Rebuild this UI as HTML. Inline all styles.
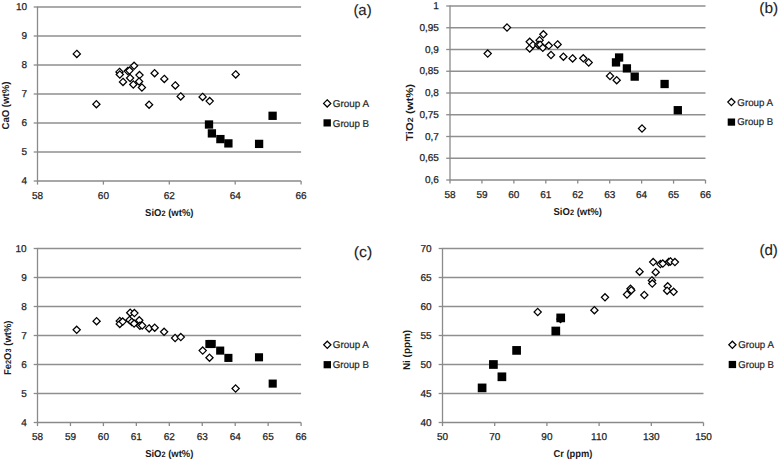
<!DOCTYPE html>
<html><head><meta charset="utf-8"><title>Geochemistry plots</title>
<style>
html,body{margin:0;padding:0;background:#fff;}
body{width:778px;height:461px;overflow:hidden;}
svg{display:block;text-rendering:geometricPrecision;font-family:"Liberation Sans", sans-serif;}
</style></head>
<body>
<svg width="778" height="461" viewBox="0 0 778 461">
<rect width="778" height="461" fill="#fff"/>
<g stroke="#8f8f8f" stroke-width="1.3" fill="none">
<line x1="37.50" y1="7.00" x2="301.10" y2="7.00"/>
<line x1="37.50" y1="36.00" x2="301.10" y2="36.00"/>
<line x1="37.50" y1="65.00" x2="301.10" y2="65.00"/>
<line x1="37.50" y1="94.00" x2="301.10" y2="94.00"/>
<line x1="37.50" y1="123.00" x2="301.10" y2="123.00"/>
<line x1="37.50" y1="152.00" x2="301.10" y2="152.00"/>
</g>
<g stroke="#8a8a8a" stroke-width="1.3" fill="none">
<line x1="37.50" y1="6.40" x2="37.50" y2="181.60"/>
<line x1="37.50" y1="181.00" x2="301.10" y2="181.00"/>
<line x1="33.70" y1="7.00" x2="37.50" y2="7.00"/>
<line x1="33.70" y1="36.00" x2="37.50" y2="36.00"/>
<line x1="33.70" y1="65.00" x2="37.50" y2="65.00"/>
<line x1="33.70" y1="94.00" x2="37.50" y2="94.00"/>
<line x1="33.70" y1="123.00" x2="37.50" y2="123.00"/>
<line x1="33.70" y1="152.00" x2="37.50" y2="152.00"/>
<line x1="33.70" y1="181.00" x2="37.50" y2="181.00"/>
<line x1="37.50" y1="181.00" x2="37.50" y2="184.60"/>
<line x1="103.40" y1="181.00" x2="103.40" y2="184.60"/>
<line x1="169.30" y1="181.00" x2="169.30" y2="184.60"/>
<line x1="235.20" y1="181.00" x2="235.20" y2="184.60"/>
<line x1="301.10" y1="181.00" x2="301.10" y2="184.60"/>
</g>
<g font-size="10" fill="#1e1e1e" stroke="#1e1e1e" stroke-width="0.25">
<text x="27.10" y="10.15" text-anchor="end">10</text>
<text x="27.10" y="39.15" text-anchor="end">9</text>
<text x="27.10" y="68.15" text-anchor="end">8</text>
<text x="27.10" y="97.15" text-anchor="end">7</text>
<text x="27.10" y="126.15" text-anchor="end">6</text>
<text x="27.10" y="155.15" text-anchor="end">5</text>
<text x="27.10" y="184.15" text-anchor="end">4</text>
<text x="37.50" y="198.50" text-anchor="middle">58</text>
<text x="103.40" y="198.50" text-anchor="middle">60</text>
<text x="169.30" y="198.50" text-anchor="middle">62</text>
<text x="235.20" y="198.50" text-anchor="middle">64</text>
<text x="301.10" y="198.50" text-anchor="middle">66</text>
</g>
<text x="169.30" y="215.80" text-anchor="middle" font-weight="bold" font-size="10" fill="#1a1a1a" textLength="48.4" lengthAdjust="spacingAndGlyphs"><tspan>SiO</tspan><tspan font-size="7.8">2</tspan><tspan> (wt%)</tspan></text>
<text transform="translate(9.30,105.60) rotate(-90)" x="0" y="0" text-anchor="middle" font-weight="bold" font-size="10" fill="#1a1a1a" textLength="47.8" lengthAdjust="spacingAndGlyphs"><tspan>CaO (wt%)</tspan></text>
<text x="353.40" y="14.50" font-size="15" fill="#1e1e1e" stroke="#1e1e1e" stroke-width="0.1" textLength="18.3" lengthAdjust="spacingAndGlyphs">(a)</text>
<g fill="#fff" stroke="#000" stroke-width="1.25"><path d="M327.20 99.80L330.80 103.40L327.20 107.00L323.60 103.40Z"/></g>
<rect x="323.50" y="119.30" width="7.4" height="7.2" fill="#000"/>
<text x="332.80" y="106.70" font-size="10" fill="#1e1e1e" stroke="#1e1e1e" stroke-width="0.2" textLength="36.3" lengthAdjust="spacingAndGlyphs">Group A</text>
<text x="332.80" y="126.50" font-size="10" fill="#1e1e1e" stroke="#1e1e1e" stroke-width="0.2" textLength="36.3" lengthAdjust="spacingAndGlyphs">Group B</text>
<g fill="#fff" stroke="#000" stroke-width="1.25">
<path d="M76.80 50.30L80.40 53.90L76.80 57.50L73.20 53.90Z"/>
<path d="M96.40 100.60L100.00 104.20L96.40 107.80L92.80 104.20Z"/>
<path d="M119.50 68.30L123.10 71.90L119.50 75.50L115.90 71.90Z"/>
<path d="M119.80 70.90L123.40 74.50L119.80 78.10L116.20 74.50Z"/>
<path d="M123.00 78.30L126.60 81.90L123.00 85.50L119.40 81.90Z"/>
<path d="M127.80 67.50L131.40 71.10L127.80 74.70L124.20 71.10Z"/>
<path d="M129.50 67.00L133.10 70.60L129.50 74.20L125.90 70.60Z"/>
<path d="M134.10 62.20L137.70 65.80L134.10 69.40L130.50 65.80Z"/>
<path d="M130.10 74.40L133.70 78.00L130.10 81.60L126.50 78.00Z"/>
<path d="M139.50 71.50L143.10 75.10L139.50 78.70L135.90 75.10Z"/>
<path d="M133.30 80.90L136.90 84.50L133.30 88.10L129.70 84.50Z"/>
<path d="M139.10 77.90L142.70 81.50L139.10 85.10L135.50 81.50Z"/>
<path d="M141.90 83.90L145.50 87.50L141.90 91.10L138.30 87.50Z"/>
<path d="M154.60 69.60L158.20 73.20L154.60 76.80L151.00 73.20Z"/>
<path d="M164.30 75.30L167.90 78.90L164.30 82.50L160.70 78.90Z"/>
<path d="M175.30 81.80L178.90 85.40L175.30 89.00L171.70 85.40Z"/>
<path d="M180.70 92.80L184.30 96.40L180.70 100.00L177.10 96.40Z"/>
<path d="M202.60 93.30L206.20 96.90L202.60 100.50L199.00 96.90Z"/>
<path d="M209.70 97.50L213.30 101.10L209.70 104.70L206.10 101.10Z"/>
<path d="M235.70 70.80L239.30 74.40L235.70 78.00L232.10 74.40Z"/>
<path d="M149.10 101.10L152.70 104.70L149.10 108.30L145.50 104.70Z"/>
</g>
<g fill="#000">
<rect x="204.85" y="120.35" width="8.30" height="8.30"/>
<rect x="207.75" y="129.25" width="8.30" height="8.30"/>
<rect x="216.25" y="134.95" width="8.30" height="8.30"/>
<rect x="224.25" y="139.25" width="8.30" height="8.30"/>
<rect x="254.95" y="139.75" width="8.30" height="8.30"/>
<rect x="268.45" y="111.65" width="8.30" height="8.30"/>
</g>
<g stroke="#8f8f8f" stroke-width="1.3" fill="none">
<line x1="450.00" y1="6.00" x2="705.50" y2="6.00"/>
<line x1="450.00" y1="27.75" x2="705.50" y2="27.75"/>
<line x1="450.00" y1="49.50" x2="705.50" y2="49.50"/>
<line x1="450.00" y1="71.25" x2="705.50" y2="71.25"/>
<line x1="450.00" y1="93.00" x2="705.50" y2="93.00"/>
<line x1="450.00" y1="114.75" x2="705.50" y2="114.75"/>
<line x1="450.00" y1="136.50" x2="705.50" y2="136.50"/>
<line x1="450.00" y1="158.25" x2="705.50" y2="158.25"/>
</g>
<g stroke="#8a8a8a" stroke-width="1.3" fill="none">
<line x1="450.00" y1="5.40" x2="450.00" y2="180.60"/>
<line x1="450.00" y1="180.00" x2="705.50" y2="180.00"/>
<line x1="446.20" y1="6.00" x2="450.00" y2="6.00"/>
<line x1="446.20" y1="27.75" x2="450.00" y2="27.75"/>
<line x1="446.20" y1="49.50" x2="450.00" y2="49.50"/>
<line x1="446.20" y1="71.25" x2="450.00" y2="71.25"/>
<line x1="446.20" y1="93.00" x2="450.00" y2="93.00"/>
<line x1="446.20" y1="114.75" x2="450.00" y2="114.75"/>
<line x1="446.20" y1="136.50" x2="450.00" y2="136.50"/>
<line x1="446.20" y1="158.25" x2="450.00" y2="158.25"/>
<line x1="446.20" y1="180.00" x2="450.00" y2="180.00"/>
<line x1="450.00" y1="180.00" x2="450.00" y2="183.60"/>
<line x1="481.94" y1="180.00" x2="481.94" y2="183.60"/>
<line x1="513.88" y1="180.00" x2="513.88" y2="183.60"/>
<line x1="545.81" y1="180.00" x2="545.81" y2="183.60"/>
<line x1="577.75" y1="180.00" x2="577.75" y2="183.60"/>
<line x1="609.69" y1="180.00" x2="609.69" y2="183.60"/>
<line x1="641.62" y1="180.00" x2="641.62" y2="183.60"/>
<line x1="673.56" y1="180.00" x2="673.56" y2="183.60"/>
<line x1="705.50" y1="180.00" x2="705.50" y2="183.60"/>
</g>
<g font-size="10" fill="#1e1e1e" stroke="#1e1e1e" stroke-width="0.25">
<text x="438.90" y="9.15" text-anchor="end">1</text>
<text x="438.90" y="30.90" text-anchor="end">0,95</text>
<text x="438.90" y="52.65" text-anchor="end">0,9</text>
<text x="438.90" y="74.40" text-anchor="end">0,85</text>
<text x="438.90" y="96.15" text-anchor="end">0,8</text>
<text x="438.90" y="117.90" text-anchor="end">0,75</text>
<text x="438.90" y="139.65" text-anchor="end">0,7</text>
<text x="438.90" y="161.40" text-anchor="end">0,65</text>
<text x="438.90" y="183.15" text-anchor="end">0,6</text>
<text x="450.00" y="197.50" text-anchor="middle">58</text>
<text x="481.94" y="197.50" text-anchor="middle">59</text>
<text x="513.88" y="197.50" text-anchor="middle">60</text>
<text x="545.81" y="197.50" text-anchor="middle">61</text>
<text x="577.75" y="197.50" text-anchor="middle">62</text>
<text x="609.69" y="197.50" text-anchor="middle">63</text>
<text x="641.62" y="197.50" text-anchor="middle">64</text>
<text x="673.56" y="197.50" text-anchor="middle">65</text>
<text x="705.50" y="197.50" text-anchor="middle">66</text>
</g>
<text x="577.75" y="214.80" text-anchor="middle" font-weight="bold" font-size="10" fill="#1a1a1a" textLength="48.4" lengthAdjust="spacingAndGlyphs"><tspan>SiO</tspan><tspan font-size="7.8">2</tspan><tspan> (wt%)</tspan></text>
<text transform="translate(412.90,112.40) rotate(-90)" x="0" y="0" text-anchor="middle" font-weight="bold" font-size="10" fill="#1a1a1a" textLength="57.0" lengthAdjust="spacingAndGlyphs"><tspan>TiO</tspan><tspan font-size="7.8">2</tspan><tspan> (wt%)</tspan></text>
<text x="759.30" y="12.90" font-size="15" fill="#1e1e1e" stroke="#1e1e1e" stroke-width="0.1" textLength="18.9" lengthAdjust="spacingAndGlyphs">(b)</text>
<g fill="#fff" stroke="#000" stroke-width="1.25"><path d="M731.40 98.50L735.00 102.10L731.40 105.70L727.80 102.10Z"/></g>
<rect x="727.70" y="118.50" width="7.4" height="7.2" fill="#000"/>
<text x="737.30" y="105.60" font-size="10" fill="#1e1e1e" stroke="#1e1e1e" stroke-width="0.2" textLength="35.8" lengthAdjust="spacingAndGlyphs">Group A</text>
<text x="737.30" y="125.10" font-size="10" fill="#1e1e1e" stroke="#1e1e1e" stroke-width="0.2" textLength="35.8" lengthAdjust="spacingAndGlyphs">Group B</text>
<g fill="#fff" stroke="#000" stroke-width="1.25">
<path d="M487.70 50.00L491.30 53.60L487.70 57.20L484.10 53.60Z"/>
<path d="M507.00 23.90L510.60 27.50L507.00 31.10L503.40 27.50Z"/>
<path d="M529.70 38.20L533.30 41.80L529.70 45.40L526.10 41.80Z"/>
<path d="M529.70 44.80L533.30 48.40L529.70 52.00L526.10 48.40Z"/>
<path d="M532.90 41.30L536.50 44.90L532.90 48.50L529.30 44.90Z"/>
<path d="M543.40 30.70L547.00 34.30L543.40 37.90L539.80 34.30Z"/>
<path d="M539.60 36.60L543.20 40.20L539.60 43.80L536.00 40.20Z"/>
<path d="M538.20 41.30L541.80 44.90L538.20 48.50L534.60 44.90Z"/>
<path d="M540.10 41.10L543.70 44.70L540.10 48.30L536.50 44.70Z"/>
<path d="M542.80 44.20L546.40 47.80L542.80 51.40L539.20 47.80Z"/>
<path d="M548.80 42.00L552.40 45.60L548.80 49.20L545.20 45.60Z"/>
<path d="M551.00 51.40L554.60 55.00L551.00 58.60L547.40 55.00Z"/>
<path d="M557.60 40.80L561.20 44.40L557.60 48.00L554.00 44.40Z"/>
<path d="M563.40 53.10L567.00 56.70L563.40 60.30L559.80 56.70Z"/>
<path d="M572.60 54.80L576.20 58.40L572.60 62.00L569.00 58.40Z"/>
<path d="M583.30 54.70L586.90 58.30L583.30 61.90L579.70 58.30Z"/>
<path d="M588.70 58.90L592.30 62.50L588.70 66.10L585.10 62.50Z"/>
<path d="M610.00 72.40L613.60 76.00L610.00 79.60L606.40 76.00Z"/>
<path d="M616.70 76.60L620.30 80.20L616.70 83.80L613.10 80.20Z"/>
<path d="M642.00 124.90L645.60 128.50L642.00 132.10L638.40 128.50Z"/>
</g>
<g fill="#000">
<rect x="611.85" y="58.25" width="8.30" height="8.30"/>
<rect x="614.95" y="53.35" width="8.30" height="8.30"/>
<rect x="622.75" y="64.25" width="8.30" height="8.30"/>
<rect x="630.55" y="72.45" width="8.30" height="8.30"/>
<rect x="660.45" y="79.85" width="8.30" height="8.30"/>
<rect x="673.65" y="106.05" width="8.30" height="8.30"/>
</g>
<g stroke="#8f8f8f" stroke-width="1.3" fill="none">
<line x1="37.50" y1="248.50" x2="301.10" y2="248.50"/>
<line x1="37.50" y1="277.50" x2="301.10" y2="277.50"/>
<line x1="37.50" y1="306.50" x2="301.10" y2="306.50"/>
<line x1="37.50" y1="335.50" x2="301.10" y2="335.50"/>
<line x1="37.50" y1="364.50" x2="301.10" y2="364.50"/>
<line x1="37.50" y1="393.50" x2="301.10" y2="393.50"/>
</g>
<g stroke="#8a8a8a" stroke-width="1.3" fill="none">
<line x1="37.50" y1="247.90" x2="37.50" y2="423.10"/>
<line x1="37.50" y1="422.50" x2="301.10" y2="422.50"/>
<line x1="33.70" y1="248.50" x2="37.50" y2="248.50"/>
<line x1="33.70" y1="277.50" x2="37.50" y2="277.50"/>
<line x1="33.70" y1="306.50" x2="37.50" y2="306.50"/>
<line x1="33.70" y1="335.50" x2="37.50" y2="335.50"/>
<line x1="33.70" y1="364.50" x2="37.50" y2="364.50"/>
<line x1="33.70" y1="393.50" x2="37.50" y2="393.50"/>
<line x1="33.70" y1="422.50" x2="37.50" y2="422.50"/>
<line x1="37.50" y1="422.50" x2="37.50" y2="426.10"/>
<line x1="70.45" y1="422.50" x2="70.45" y2="426.10"/>
<line x1="103.40" y1="422.50" x2="103.40" y2="426.10"/>
<line x1="136.35" y1="422.50" x2="136.35" y2="426.10"/>
<line x1="169.30" y1="422.50" x2="169.30" y2="426.10"/>
<line x1="202.25" y1="422.50" x2="202.25" y2="426.10"/>
<line x1="235.20" y1="422.50" x2="235.20" y2="426.10"/>
<line x1="268.15" y1="422.50" x2="268.15" y2="426.10"/>
<line x1="301.10" y1="422.50" x2="301.10" y2="426.10"/>
</g>
<g font-size="10" fill="#1e1e1e" stroke="#1e1e1e" stroke-width="0.25">
<text x="26.70" y="251.65" text-anchor="end">10</text>
<text x="26.70" y="280.65" text-anchor="end">9</text>
<text x="26.70" y="309.65" text-anchor="end">8</text>
<text x="26.70" y="338.65" text-anchor="end">7</text>
<text x="26.70" y="367.65" text-anchor="end">6</text>
<text x="26.70" y="396.65" text-anchor="end">5</text>
<text x="26.70" y="425.65" text-anchor="end">4</text>
<text x="37.50" y="440.00" text-anchor="middle">58</text>
<text x="70.45" y="440.00" text-anchor="middle">59</text>
<text x="103.40" y="440.00" text-anchor="middle">60</text>
<text x="136.35" y="440.00" text-anchor="middle">61</text>
<text x="169.30" y="440.00" text-anchor="middle">62</text>
<text x="202.25" y="440.00" text-anchor="middle">63</text>
<text x="235.20" y="440.00" text-anchor="middle">64</text>
<text x="268.15" y="440.00" text-anchor="middle">65</text>
<text x="301.10" y="440.00" text-anchor="middle">66</text>
</g>
<text x="169.30" y="457.30" text-anchor="middle" font-weight="bold" font-size="10" fill="#1a1a1a" textLength="48.3" lengthAdjust="spacingAndGlyphs"><tspan>SiO</tspan><tspan font-size="7.8">2</tspan><tspan> (wt%)</tspan></text>
<text transform="translate(10.60,347.80) rotate(-90)" x="0" y="0" text-anchor="middle" font-weight="bold" font-size="10" fill="#1a1a1a" textLength="54.6" lengthAdjust="spacingAndGlyphs"><tspan>Fe</tspan><tspan font-size="7.8">2</tspan><tspan>O</tspan><tspan font-size="7.8">3</tspan><tspan> (wt%)</tspan></text>
<text x="353.80" y="256.70" font-size="15" fill="#1e1e1e" stroke="#1e1e1e" stroke-width="0.1" textLength="18.5" lengthAdjust="spacingAndGlyphs">(c)</text>
<g fill="#fff" stroke="#000" stroke-width="1.25"><path d="M327.30 341.20L330.90 344.80L327.30 348.40L323.70 344.80Z"/></g>
<rect x="323.60" y="361.10" width="7.4" height="7.2" fill="#000"/>
<text x="332.80" y="348.20" font-size="10" fill="#1e1e1e" stroke="#1e1e1e" stroke-width="0.2" textLength="36.1" lengthAdjust="spacingAndGlyphs">Group A</text>
<text x="332.80" y="368.00" font-size="10" fill="#1e1e1e" stroke="#1e1e1e" stroke-width="0.2" textLength="36.1" lengthAdjust="spacingAndGlyphs">Group B</text>
<g fill="#fff" stroke="#000" stroke-width="1.25">
<path d="M76.70 326.20L80.30 329.80L76.70 333.40L73.10 329.80Z"/>
<path d="M96.60 317.60L100.20 321.20L96.60 324.80L93.00 321.20Z"/>
<path d="M119.80 317.40L123.40 321.00L119.80 324.60L116.20 321.00Z"/>
<path d="M119.80 320.30L123.40 323.90L119.80 327.50L116.20 323.90Z"/>
<path d="M122.70 318.00L126.30 321.60L122.70 325.20L119.10 321.60Z"/>
<path d="M130.20 309.10L133.80 312.70L130.20 316.30L126.60 312.70Z"/>
<path d="M134.40 309.50L138.00 313.10L134.40 316.70L130.80 313.10Z"/>
<path d="M129.50 316.40L133.10 320.00L129.50 323.60L125.90 320.00Z"/>
<path d="M131.80 318.30L135.40 321.90L131.80 325.50L128.20 321.90Z"/>
<path d="M134.10 320.00L137.70 323.60L134.10 327.20L130.50 323.60Z"/>
<path d="M139.30 316.70L142.90 320.30L139.30 323.90L135.70 320.30Z"/>
<path d="M139.90 322.20L143.50 325.80L139.90 329.40L136.30 325.80Z"/>
<path d="M142.20 321.90L145.80 325.50L142.20 329.10L138.60 325.50Z"/>
<path d="M149.10 324.80L152.70 328.40L149.10 332.00L145.50 328.40Z"/>
<path d="M154.70 324.10L158.30 327.70L154.70 331.30L151.10 327.70Z"/>
<path d="M164.10 328.20L167.70 331.80L164.10 335.40L160.50 331.80Z"/>
<path d="M175.10 334.40L178.70 338.00L175.10 341.60L171.50 338.00Z"/>
<path d="M180.80 333.50L184.40 337.10L180.80 340.70L177.20 337.10Z"/>
<path d="M202.70 347.00L206.30 350.60L202.70 354.20L199.10 350.60Z"/>
<path d="M209.50 354.10L213.10 357.70L209.50 361.30L205.90 357.70Z"/>
<path d="M235.60 384.90L239.20 388.50L235.60 392.10L232.00 388.50Z"/>
</g>
<g fill="#000">
<rect x="205.35" y="339.95" width="8.10" height="8.10"/>
<rect x="207.65" y="339.95" width="8.10" height="8.10"/>
<rect x="216.15" y="346.55" width="8.10" height="8.10"/>
<rect x="224.35" y="353.85" width="8.10" height="8.10"/>
<rect x="254.95" y="353.25" width="8.10" height="8.10"/>
<rect x="268.65" y="379.55" width="8.10" height="8.10"/>
</g>
<g stroke="#8f8f8f" stroke-width="1.3" fill="none">
<line x1="442.50" y1="248.50" x2="703.50" y2="248.50"/>
<line x1="442.50" y1="277.50" x2="703.50" y2="277.50"/>
<line x1="442.50" y1="306.50" x2="703.50" y2="306.50"/>
<line x1="442.50" y1="335.50" x2="703.50" y2="335.50"/>
<line x1="442.50" y1="364.50" x2="703.50" y2="364.50"/>
<line x1="442.50" y1="393.50" x2="703.50" y2="393.50"/>
</g>
<g stroke="#8a8a8a" stroke-width="1.3" fill="none">
<line x1="442.50" y1="247.90" x2="442.50" y2="423.10"/>
<line x1="442.50" y1="422.50" x2="703.50" y2="422.50"/>
<line x1="438.70" y1="248.50" x2="442.50" y2="248.50"/>
<line x1="438.70" y1="277.50" x2="442.50" y2="277.50"/>
<line x1="438.70" y1="306.50" x2="442.50" y2="306.50"/>
<line x1="438.70" y1="335.50" x2="442.50" y2="335.50"/>
<line x1="438.70" y1="364.50" x2="442.50" y2="364.50"/>
<line x1="438.70" y1="393.50" x2="442.50" y2="393.50"/>
<line x1="438.70" y1="422.50" x2="442.50" y2="422.50"/>
<line x1="442.50" y1="422.50" x2="442.50" y2="426.10"/>
<line x1="494.70" y1="422.50" x2="494.70" y2="426.10"/>
<line x1="546.90" y1="422.50" x2="546.90" y2="426.10"/>
<line x1="599.10" y1="422.50" x2="599.10" y2="426.10"/>
<line x1="651.30" y1="422.50" x2="651.30" y2="426.10"/>
<line x1="703.50" y1="422.50" x2="703.50" y2="426.10"/>
</g>
<g font-size="10" fill="#1e1e1e" stroke="#1e1e1e" stroke-width="0.25">
<text x="431.50" y="251.65" text-anchor="end">70</text>
<text x="431.50" y="280.65" text-anchor="end">65</text>
<text x="431.50" y="309.65" text-anchor="end">60</text>
<text x="431.50" y="338.65" text-anchor="end">55</text>
<text x="431.50" y="367.65" text-anchor="end">50</text>
<text x="431.50" y="396.65" text-anchor="end">45</text>
<text x="431.50" y="425.65" text-anchor="end">40</text>
<text x="442.50" y="440.00" text-anchor="middle">50</text>
<text x="494.70" y="440.00" text-anchor="middle">70</text>
<text x="546.90" y="440.00" text-anchor="middle">90</text>
<text x="599.10" y="440.00" text-anchor="middle">110</text>
<text x="651.30" y="440.00" text-anchor="middle">130</text>
<text x="703.50" y="440.00" text-anchor="middle">150</text>
</g>
<text x="573.00" y="457.30" text-anchor="middle" font-weight="bold" font-size="10" fill="#1a1a1a" textLength="39.0" lengthAdjust="spacingAndGlyphs"><tspan>Cr (ppm)</tspan></text>
<text transform="translate(409.60,350.00) rotate(-90)" x="0" y="0" text-anchor="middle" font-weight="bold" font-size="10" fill="#1a1a1a" textLength="40.0" lengthAdjust="spacingAndGlyphs"><tspan>Ni (ppm)</tspan></text>
<text x="759.40" y="255.20" font-size="15" fill="#1e1e1e" stroke="#1e1e1e" stroke-width="0.1" textLength="18.5" lengthAdjust="spacingAndGlyphs">(d)</text>
<g fill="#fff" stroke="#000" stroke-width="1.25"><path d="M732.40 341.20L736.00 344.80L732.40 348.40L728.80 344.80Z"/></g>
<rect x="728.70" y="360.90" width="7.4" height="7.2" fill="#000"/>
<text x="738.30" y="348.00" font-size="10" fill="#1e1e1e" stroke="#1e1e1e" stroke-width="0.2" textLength="35.6" lengthAdjust="spacingAndGlyphs">Group A</text>
<text x="738.30" y="367.90" font-size="10" fill="#1e1e1e" stroke="#1e1e1e" stroke-width="0.2" textLength="35.6" lengthAdjust="spacingAndGlyphs">Group B</text>
<g fill="#fff" stroke="#000" stroke-width="1.25">
<path d="M537.70 308.40L541.30 312.00L537.70 315.60L534.10 312.00Z"/>
<path d="M560.50 315.40L564.10 319.00L560.50 322.60L556.90 319.00Z"/>
<path d="M594.40 306.60L598.00 310.20L594.40 313.80L590.80 310.20Z"/>
<path d="M605.00 293.70L608.60 297.30L605.00 300.90L601.40 297.30Z"/>
<path d="M627.00 290.90L630.60 294.50L627.00 298.10L623.40 294.50Z"/>
<path d="M630.50 285.10L634.10 288.70L630.50 292.30L626.90 288.70Z"/>
<path d="M631.30 286.60L634.90 290.20L631.30 293.80L627.70 290.20Z"/>
<path d="M644.30 291.40L647.90 295.00L644.30 298.60L640.70 295.00Z"/>
<path d="M639.60 268.10L643.20 271.70L639.60 275.30L636.00 271.70Z"/>
<path d="M653.20 258.50L656.80 262.10L653.20 265.70L649.60 262.10Z"/>
<path d="M655.70 268.60L659.30 272.20L655.70 275.80L652.10 272.20Z"/>
<path d="M651.90 276.80L655.50 280.40L651.90 284.00L648.30 280.40Z"/>
<path d="M652.30 280.00L655.90 283.60L652.30 287.20L648.70 283.60Z"/>
<path d="M660.40 260.50L664.00 264.10L660.40 267.70L656.80 264.10Z"/>
<path d="M662.80 260.00L666.40 263.60L662.80 267.20L659.20 263.60Z"/>
<path d="M668.70 258.30L672.30 261.90L668.70 265.50L665.10 261.90Z"/>
<path d="M670.40 257.80L674.00 261.40L670.40 265.00L666.80 261.40Z"/>
<path d="M674.90 258.50L678.50 262.10L674.90 265.70L671.30 262.10Z"/>
<path d="M667.70 282.70L671.30 286.30L667.70 289.90L664.10 286.30Z"/>
<path d="M667.10 287.10L670.70 290.70L667.10 294.30L663.50 290.70Z"/>
<path d="M673.60 288.20L677.20 291.80L673.60 295.40L670.00 291.80Z"/>
</g>
<g fill="#000">
<rect x="477.75" y="383.55" width="8.70" height="8.70"/>
<rect x="497.55" y="372.45" width="8.70" height="8.70"/>
<rect x="489.05" y="360.15" width="8.70" height="8.70"/>
<rect x="512.25" y="346.05" width="8.70" height="8.70"/>
<rect x="551.45" y="326.65" width="8.70" height="8.70"/>
<rect x="556.35" y="313.55" width="8.70" height="8.70"/>
</g>
</svg>
</body></html>
